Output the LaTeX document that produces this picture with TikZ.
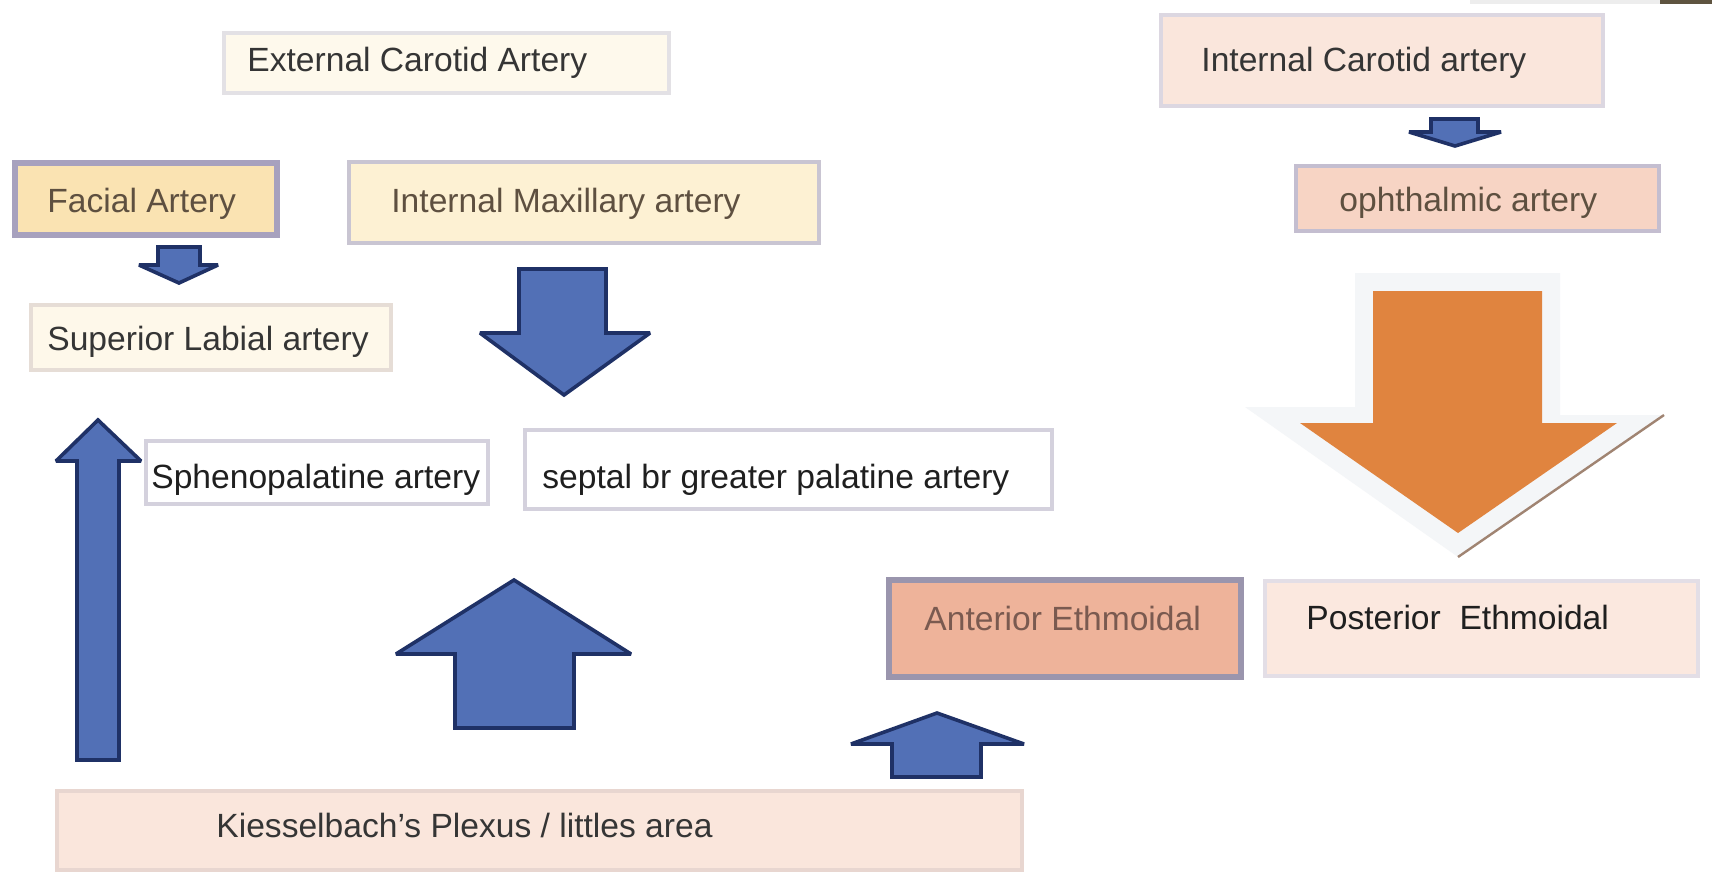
\documentclass[tikz,border=0pt]{standalone}
\usepackage{fontspec}
\setmainfont{Liberation Sans}
\usetikzlibrary{fit}
\definecolor{arrowblue}{HTML}{5270B6}
\definecolor{arrowedge}{HTML}{1F3166}
\definecolor{orangearrow}{HTML}{E0843F}
\definecolor{shadowgray}{HTML}{F4F6F8}
\definecolor{brownline}{HTML}{A08472}
\definecolor{txtdark}{HTML}{353535}
\definecolor{txtbrown}{HTML}{5E5040}
\definecolor{cream}{HTML}{FEF9EC}
\definecolor{creamedge}{HTML}{E3E1E5}
\definecolor{facialfill}{HTML}{FAE3B2}
\definecolor{purpleedge}{HTML}{A7A1BE}
\definecolor{imaxfill}{HTML}{FDF1D3}
\definecolor{imaxedge}{HTML}{C9C5D2}
\definecolor{slabfill}{HTML}{FEF8EA}
\definecolor{slabedge}{HTML}{E6DDD6}
\definecolor{peach}{HTML}{FAE6DC}
\definecolor{peachedge}{HTML}{DCD7E1}
\definecolor{ophfill}{HTML}{F7D4C4}
\definecolor{ophedge}{HTML}{C4BED0}
\definecolor{whiteedge}{HTML}{D4D1DD}
\definecolor{antfill}{HTML}{EEB39A}
\definecolor{antedge}{HTML}{9A95AD}
\definecolor{anttext}{HTML}{7A5A50}
\definecolor{postfill}{HTML}{FBE8DF}
\definecolor{postedge}{HTML}{E3DEE6}
\definecolor{kiesedge}{HTML}{E8D6D0}
\definecolor{oliveband}{HTML}{5E5440}
\definecolor{lightband}{HTML}{EDEDED}
\begin{document}
\begin{tikzpicture}[x=0.5pt,y=-0.5pt,
  box/.style={draw, line width=2pt, inner sep=0pt},
  thickbox/.style={draw, line width=3pt, inner sep=0pt},
  lbl/.style={anchor=base west, inner sep=0pt, text=txtdark, font=\fontsize{16.8}{20}\selectfont},
  barrow/.style={fill=arrowblue, draw=arrowedge, line width=1.8pt, line join=miter, miter limit=2.5}]
\useasboundingbox (0,0) rectangle (1712,875);
\fill[white] (0,0) rectangle (1712,875);
\fill[lightband] (1470,0) rectangle (1660,4);
\fill[oliveband] (1660,0) rectangle (1712,4);

% boxes
\node[box, draw=creamedge, fill=cream, fit={(224,33)(669,93)}] (ext) {};
\node[thickbox, draw=purpleedge, fill=facialfill, fit={(15,163)(277,235)}] (facial) {};
\node[box, draw=imaxedge, fill=imaxfill, fit={(349,162)(819,243)}] (imax) {};
\node[box, draw=slabedge, fill=slabfill, fit={(31,305)(391,370)}] (slab) {};
\node[box, draw=peachedge, fill=peach, fit={(1161,15)(1603,106)}] (ica) {};
\node[box, draw=ophedge, fill=ophfill, fit={(1296,166)(1659,231)}] (oph) {};
\node[box, draw=whiteedge, fill=white, fit={(146,441)(488,504)}] (spheno) {};
\node[box, draw=whiteedge, fill=white, fit={(525,430)(1052,509)}] (septal) {};
\node[thickbox, draw=antedge, fill=antfill, fit={(889,580)(1241,677)}] (ant) {};
\node[box, draw=postedge, fill=postfill, fit={(1265,581)(1698,676)}] (post) {};
\node[box, draw=kiesedge, fill=peach, fit={(57,791)(1022,870)}] (kies) {};

% labels
\node[lbl] (extl) at (247,71) {External Carotid Artery};
\node[lbl, text=txtbrown] (faciall) at (47,212) {Facial Artery};
\node[lbl, text=txtbrown] (imaxl) at (391,212) {Internal Maxillary artery};
\node[lbl] (slabl) at (47,350) {Superior Labial artery};
\node[lbl] (ical) at (1201,71) {Internal Carotid artery};
\node[lbl, text=txtbrown] (ophl) at (1339,211) {ophthalmic artery};
\node[lbl, text=black!88] (sphenol) at (151,488) {Sphenopalatine artery};
\node[lbl, text=black!88] (septall) at (542,488) {septal br greater palatine artery};
\node[lbl, text=anttext] (antl) at (924,630) {Anterior Ethmoidal};
\node[lbl, text=black!88] (postl) at (1306,629) {Posterior\ \ Ethmoidal};
\node[lbl] (kiesl) at (216,837) {Kiesselbach’s Plexus / littles area};

% blue block arrows
\draw[barrow] (158,247) -- (200,247) -- (200,265) -- (218,265) -- (179,283) -- (139,265) -- (158,265) -- cycle;
\draw[barrow] (519,269) -- (606,269) -- (606,333) -- (650,333) -- (564,395) -- (480,333) -- (519,333) -- cycle;
\draw[barrow] (1431,119) -- (1478,119) -- (1478,132) -- (1501,132) -- (1455,146) -- (1409,132) -- (1431,132) -- cycle;
\draw[barrow] (77,760) -- (119,760) -- (119,461) -- (141,461) -- (98,420) -- (56,461) -- (77,461) -- cycle;
\draw[barrow] (455,728) -- (574,728) -- (574,654) -- (631,654) -- (514,580) -- (396,654) -- (455,654) -- cycle;
\draw[barrow] (892,777) -- (981,777) -- (981,744) -- (1024,744) -- (937,713) -- (851,744) -- (892,744) -- cycle;

% orange arrow with shadow
\fill[shadowgray] (1355,273) -- (1560,273) -- (1560,415) -- (1664,415) -- (1458,557) -- (1245,407) -- (1355,407) -- cycle;
\draw[brownline, line width=1.2pt] (1664,415) -- (1458,557);
\fill[orangearrow] (1373,291) -- (1542,291) -- (1542,423) -- (1617,423) -- (1458,533) -- (1300,423) -- (1373,423) -- cycle;
\end{tikzpicture}
\end{document}
